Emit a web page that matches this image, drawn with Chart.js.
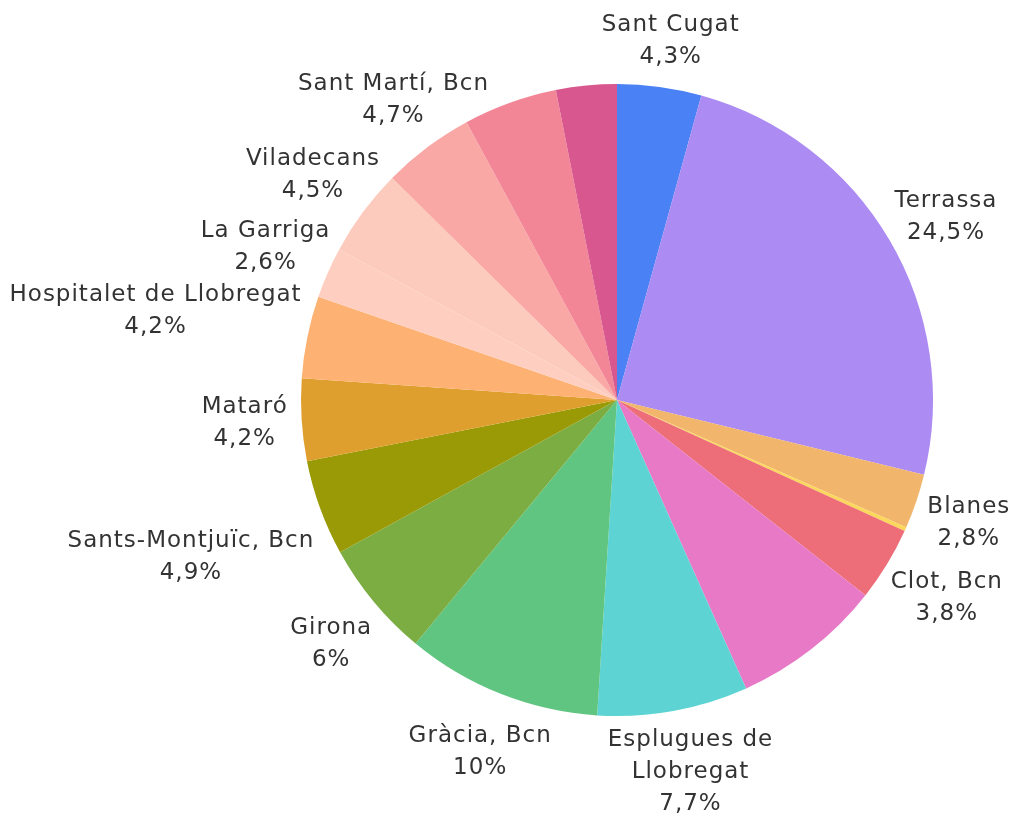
<!DOCTYPE html>
<html>
<head>
<meta charset="utf-8">
<script src="https://cdn.jsdelivr.net/npm/chart.js@4"></script>
<style>
  body { margin: 0; background: #fff; }
  #wrap { width: 1018px; height: 814px; }
</style>
</head>
<body>
<div id="wrap"><canvas id="pie"></canvas></div>
<script>
// Dades (percentatges), en sentit horari des de dalt
const categories = [
  'Sant Cugat', 'Terrassa', 'Blanes', null, 'Clot, Bcn', null,
  'Esplugues de\nLlobregat', 'Gràcia, Bcn', 'Girona', 'Sants-Montjuïc, Bcn',
  'Mataró', 'Hospitalet de Llobregat', 'La Garriga', 'Viladecans',
  'Sant Martí, Bcn', null, null
];
const values = [4.3, 24.5, 2.8, 0.2, 3.8, 7.7, 7.7, 10, 6, 4.9, 4.2, 4.2, 2.6, 4.5, 4.7, 4.8, 3.1];
const colors = [
  '#4a81f5', '#ac8bf3', '#f1b56c', '#fbd75b', '#ed6d78', '#e779c6',
  '#5dd4d3', '#5fc581', '#7bad43', '#999a06', '#df9f2e', '#fdb172',
  '#fecfc0', '#fdcbbd', '#f9a8a5', '#f28697', '#d8578e'
];

const FONT = '23px "DejaVu Sans", sans-serif';
const LINE_H = 32;
const GAP = 14;
// petits desplaçaments per evitar solapaments (com fa l'original)
const labelNudge = {
  2: [0, 7], 4: [0, 10], 7: [11, 15], 8: [0, 13], 9: [0, 33],
  11: [5, -17], 12: [10, -7], 13: [15, -9], 14: [32, -10]
};

// etiquetes exteriors: nom + percentatge
const outLabels = {
  id: 'outLabels',
  afterDraw(chart) {
    const ctx = chart.ctx;
    const meta = chart.getDatasetMeta(0);
    ctx.save();
    ctx.font = FONT;
    ctx.letterSpacing = '1px';
    ctx.fillStyle = '#333333';
    ctx.textAlign = 'center';
    ctx.textBaseline = 'middle';
    meta.data.forEach((arc, i) => {
      if (!categories[i]) return;
      const lines = categories[i].split('\n');
      lines.push(String(values[i]).replace('.', ',') + '%');
      const w = Math.max(...lines.map(l => ctx.measureText(l).width));
      const h = lines.length * LINE_H;
      const mid = (arc.startAngle + arc.endAngle) / 2;
      const dx = Math.cos(mid), dy = Math.sin(mid);
      const r = arc.outerRadius + GAP;
      const n = labelNudge[i] || [0, 0];
      const cx = arc.x + dx * r + dx * w / 2 + n[0];
      const cy = arc.y + dy * r + dy * h / 2 + n[1];
      lines.forEach((l, k) => {
        ctx.fillText(l, cx, cy - h / 2 + LINE_H * (k + 0.5));
      });
    });
    ctx.restore();
  }
};

new Chart(document.getElementById('pie'), {
  type: 'pie',
  data: {
    labels: categories.map(c => c || ''),
    datasets: [{
      data: values,
      backgroundColor: colors,
      borderWidth: 0
    }]
  },
  options: {
    responsive: true,
    maintainAspectRatio: false,
    animation: false,
    layout: { padding: { top: 84, bottom: 98, left: 301, right: 85 } },
    plugins: {
      legend: { display: false },
      tooltip: { enabled: false }
    }
  },
  plugins: [outLabels]
});
</script>
</body>
</html>
